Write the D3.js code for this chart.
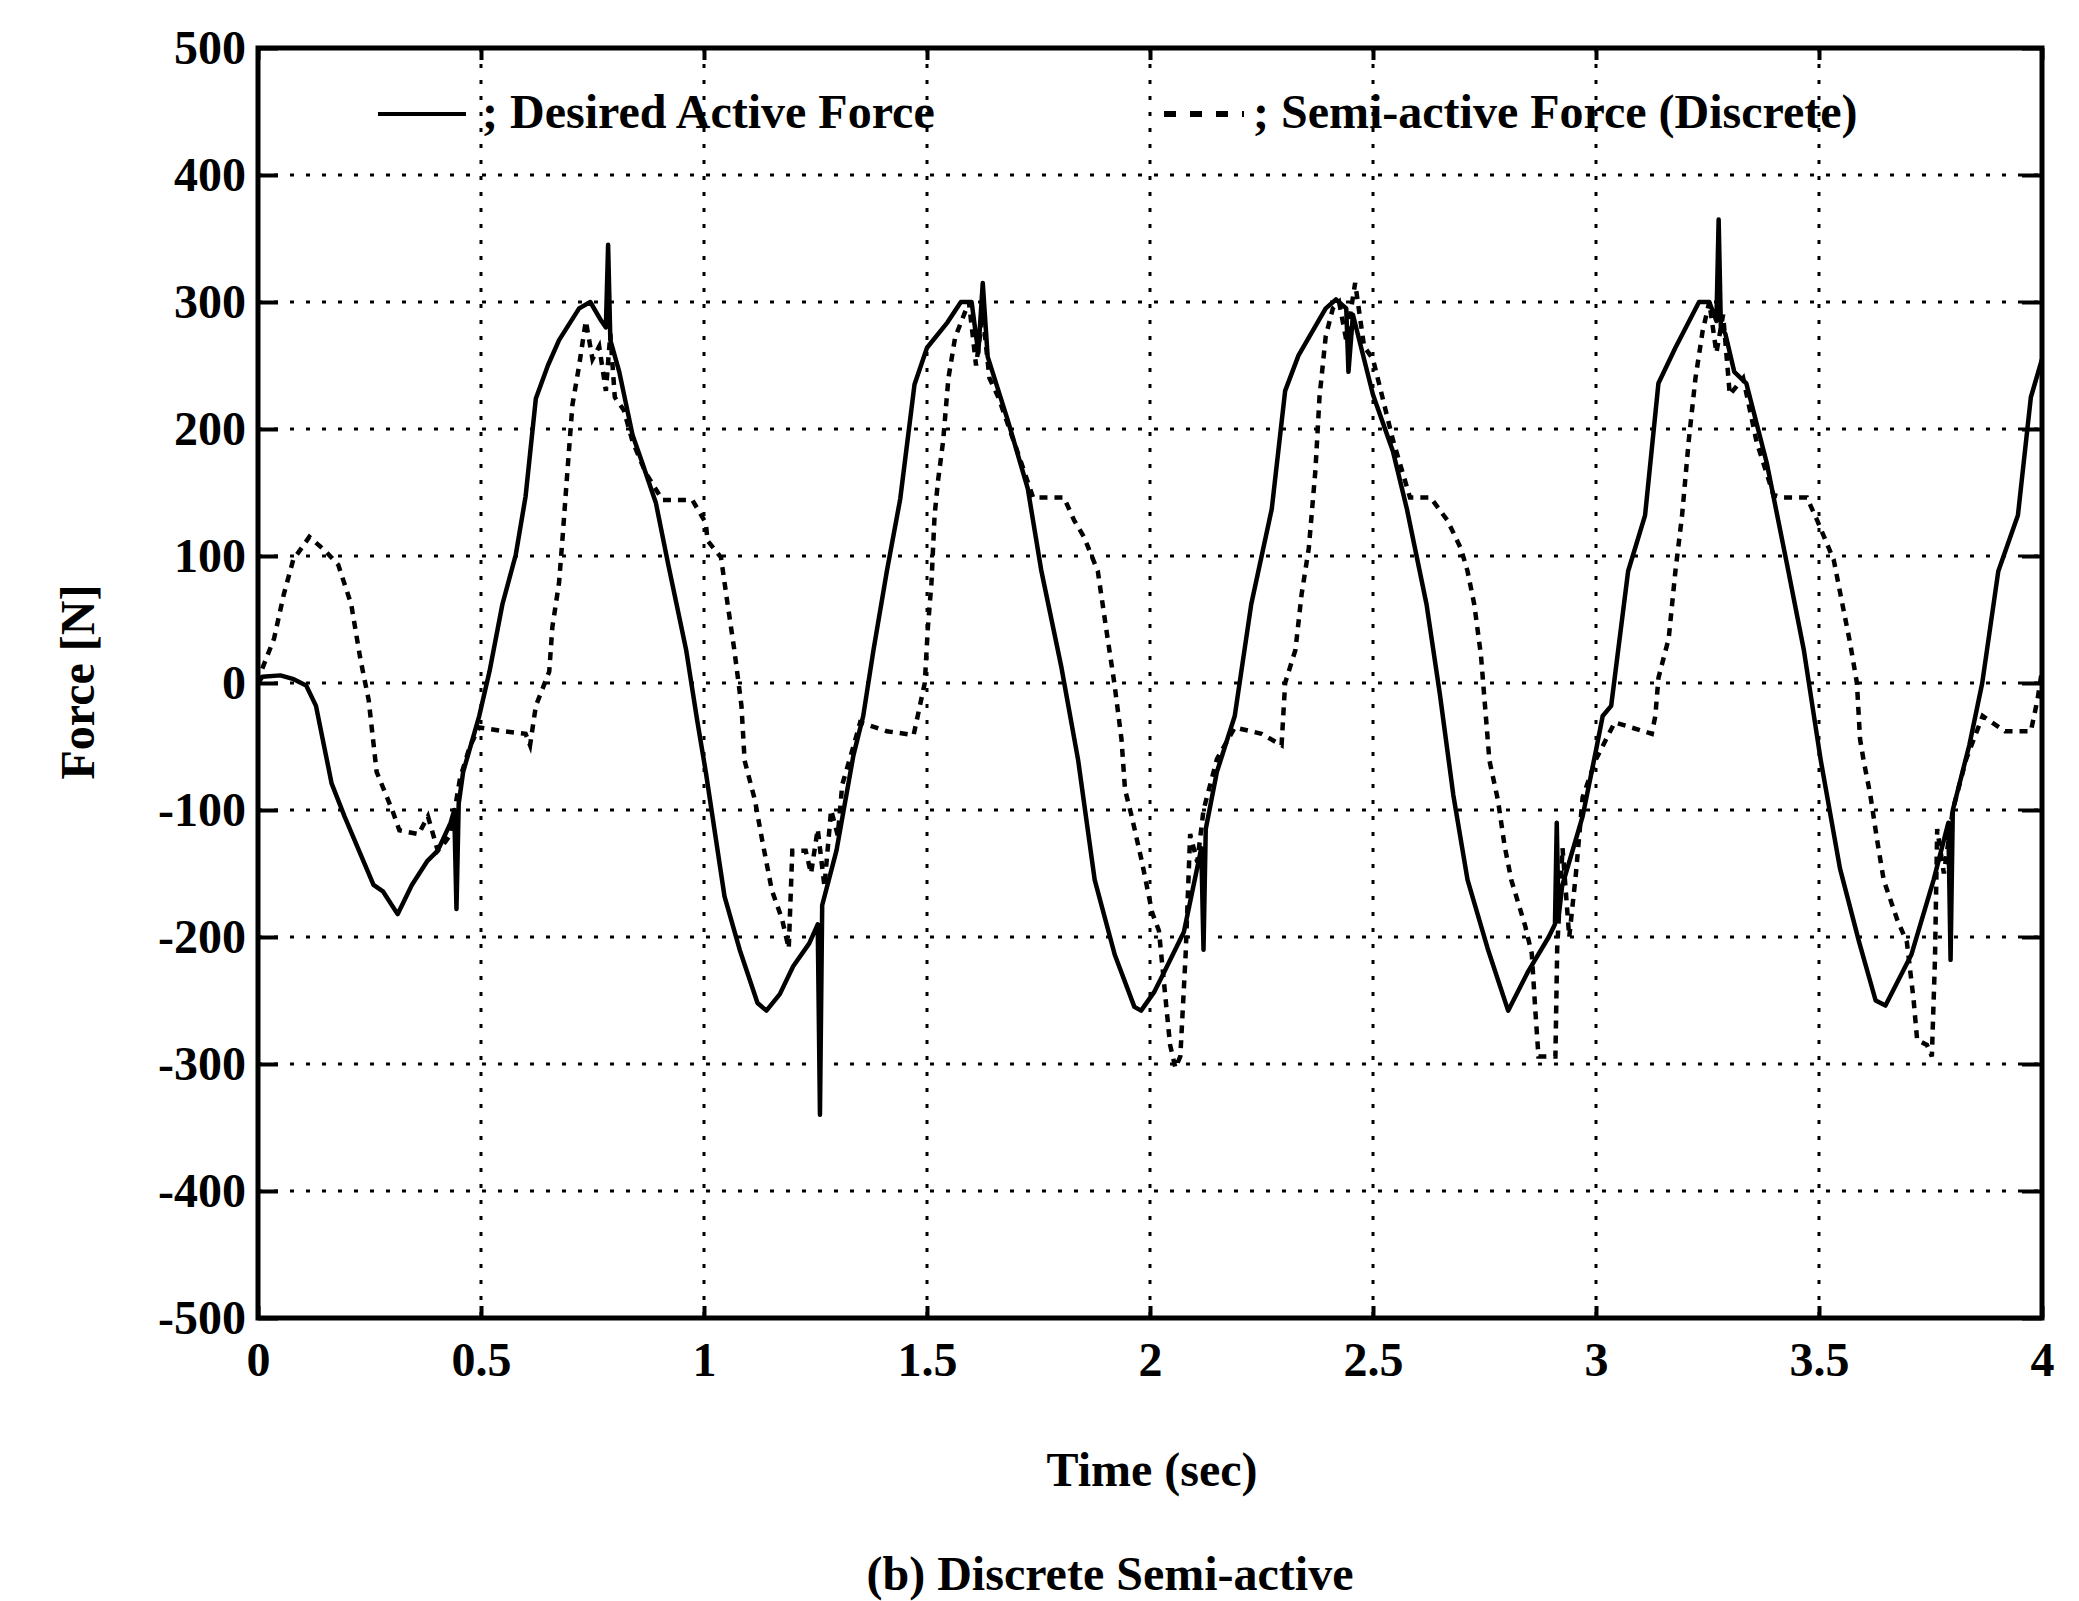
<!DOCTYPE html>
<html>
<head>
<meta charset="utf-8">
<script src="https://cdn.jsdelivr.net/npm/d3@7"></script>
<style>
  html, body { margin: 0; padding: 0; background: #fff; }
  svg { display: block; }
  text { font-family: "Liberation Serif", "DejaVu Serif", serif; fill: #000; }
</style>
</head>
<body>
<svg id="chart" width="2079" height="1601"></svg>
<script>
// ---- data ----
const xTicks = [0, 0.5, 1, 1.5, 2, 2.5, 3, 3.5, 4];
const xTickLabels = ["0", "0.5", "1", "1.5", "2", "2.5", "3", "3.5", "4"];
const yTicks = [-500, -400, -300, -200, -100, 0, 100, 200, 300, 400, 500];
const yTickLabels = ["-500", "-400", "-300", "-200", "-100", "0", "100", "200", "300", "400", "500"];

const seriesNames = ["Desired Active Force", "Semi-active Force (Discrete)"];

const desiredTime = [0,0.01,0.05,0.08,0.108,0.13,0.165,0.194,0.23,0.259,0.28,0.313,0.345,0.38,0.403,0.432,0.44,0.445,0.45,0.46,0.496,0.519,0.548,0.578,0.6,0.623,0.65,0.675,0.72,0.745,0.77,0.78,0.785,0.79,0.81,0.84,0.86,0.892,0.92,0.96,0.985,1.004,1.046,1.08,1.12,1.14,1.17,1.2,1.236,1.255,1.26,1.265,1.297,1.335,1.357,1.38,1.41,1.44,1.472,1.5,1.546,1.576,1.6,1.615,1.625,1.636,1.681,1.726,1.756,1.801,1.839,1.876,1.921,1.965,1.98,2.01,2.03,2.076,2.115,2.12,2.125,2.15,2.19,2.227,2.273,2.303,2.333,2.394,2.417,2.44,2.445,2.455,2.5,2.545,2.576,2.62,2.65,2.68,2.712,2.757,2.803,2.848,2.894,2.908,2.912,2.916,2.924,2.97,3.0,3.015,3.034,3.072,3.11,3.14,3.178,3.231,3.254,3.27,3.275,3.28,3.29,3.31,3.337,3.383,3.428,3.466,3.504,3.547,3.59,3.627,3.649,3.707,3.757,3.79,3.795,3.8,3.837,3.866,3.902,3.946,3.975,4.0];
const desiredForce = [0,5,6,3,-2,-18,-79,-105,-135,-159,-164,-182,-159,-140,-132,-110,-100,-178,-95,-70,-26,9,62,101,147,224,250,270,295,300,285,280,345,270,245,195,175,142,93,26,-30,-70,-168,-210,-252,-258,-245,-223,-205,-190,-340,-175,-132,-57,-26,26,88,145,235,264,284,300,300,260,315,257,207,153,89,13,-61,-155,-214,-255,-258,-243,-229,-196,-130,-210,-115,-70,-26,62,137,230,258,295,302,295,245,290,227,182,137,62,-9,-88,-155,-209,-258,-227,-200,-190,-110,-185,-160,-105,-53,-26,-18,88,132,236,264,300,300,285,365,280,275,245,236,173,94,26,-61,-146,-204,-250,-254,-214,-155,-110,-218,-100,-49,0,88,132,225,255];

const semiTime = [0,0.007,0.036,0.058,0.079,0.115,0.151,0.18,0.209,0.23,0.248,0.266,0.302,0.317,0.36,0.381,0.403,0.42,0.432,0.453,0.475,0.496,0.55,0.6,0.61,0.623,0.653,0.66,0.675,0.683,0.694,0.705,0.72,0.735,0.75,0.765,0.78,0.79,0.8,0.82,0.84,0.87,0.9,0.907,0.974,1.004,1.008,1.038,1.053,1.068,1.084,1.091,1.114,1.13,1.152,1.175,1.19,1.198,1.228,1.24,1.255,1.27,1.285,1.3,1.31,1.335,1.35,1.41,1.47,1.495,1.502,1.51,1.517,1.525,1.536,1.548,1.563,1.594,1.61,1.625,1.64,1.66,1.7,1.738,1.807,1.83,1.852,1.883,1.905,1.92,1.936,1.944,1.959,1.982,2.005,2.02,2.03,2.045,2.057,2.068,2.08,2.09,2.106,2.12,2.15,2.19,2.25,2.295,2.303,2.326,2.34,2.356,2.371,2.38,2.394,2.41,2.424,2.44,2.46,2.48,2.5,2.545,2.583,2.629,2.667,2.697,2.712,2.727,2.742,2.75,2.761,2.78,2.795,2.81,2.841,2.856,2.864,2.871,2.909,2.913,2.925,2.94,2.955,2.97,3.0,3.042,3.125,3.133,3.14,3.163,3.178,3.193,3.208,3.223,3.239,3.254,3.27,3.285,3.3,3.33,3.36,3.398,3.42,3.473,3.496,3.533,3.548,3.57,3.585,3.592,3.6,3.615,3.63,3.645,3.675,3.697,3.712,3.72,3.742,3.753,3.76,3.765,3.78,3.8,3.83,3.867,3.917,3.975,3.99,4.0];
const semiForce = [0,9,35,70,97,115,104,93,62,18,-13,-70,-101,-116,-119,-105,-132,-125,-119,-75,-50,-35,-38,-40,-49,-18,9,44,79,115,168,219,250,285,255,265,230,275,225,215,190,165,148,144,144,126,112,99,62,26,-18,-61,-92,-123,-163,-186,-209,-132,-132,-150,-115,-160,-100,-120,-80,-50,-31,-38,-41,0,44,79,132,160,190,240,272,300,250,290,240,225,185,146,146,128,115,88,35,0,-44,-84,-105,-141,-181,-195,-231,-285,-303,-294,-213,-119,-141,-100,-60,-35,-40,-49,0,26,70,106,168,225,273,295,300,270,315,265,255,191,146,146,128,106,88,62,22,-13,-61,-92,-128,-155,-191,-213,-258,-294,-294,-209,-130,-200,-150,-90,-60,-31,-40,-26,4,35,88,132,191,240,277,300,260,290,227,240,190,148,146,146,128,97,70,31,0,-44,-61,-88,-123,-155,-186,-204,-249,-281,-285,-294,-218,-115,-150,-100,-60,-26,-38,-38,-13,10];

const xAxisTitle = "Time (sec)";
const yAxisTitle = "Force [N]";
const caption = "(b) Discrete Semi-active";

// ---- layout ----
const svg = d3.select("#chart");
const L = 258, R = 2042, T = 48, B = 1318;
const FONT = 48;

const x = d3.scaleLinear().domain([0, 4]).range([L, R]);
const y = d3.scaleLinear().domain([-500, 500]).range([B, T]);

svg.append("rect").attr("width", 2079).attr("height", 1601).attr("fill", "#fff");

// grid
const grid = svg.append("g").attr("stroke", "#000").attr("stroke-width", 3)
  .attr("stroke-dasharray", "4,12");
grid.selectAll("line.h").data(yTicks.filter(v => v > -500 && v < 500)).join("line")
  .attr("x1", L).attr("x2", R).attr("y1", d => y(d)).attr("y2", d => y(d));
grid.selectAll("line.v").data(xTicks.filter(v => v > 0 && v < 4)).join("line")
  .attr("class", "v")
  .attr("y1", T).attr("y2", B).attr("x1", d => x(d)).attr("x2", d => x(d));

// axes
function styleAxis(g) {
  g.select(".domain").remove();
  g.selectAll(".tick line").attr("stroke", "#000").attr("stroke-width", 4);
  g.selectAll(".tick text").attr("font-size", FONT).attr("font-weight", "bold")
    .attr("font-family", '"Liberation Serif", serif').attr("fill", "#000");
}
svg.append("g").attr("transform", `translate(${L},0)`)
  .call(d3.axisLeft(y).tickValues(yTicks).tickFormat((d, i) => yTickLabels[i]).tickSize(-20).tickPadding(12))
  .call(styleAxis);
svg.append("g").attr("transform", `translate(${R},0)`)
  .call(d3.axisRight(y).tickValues(yTicks).tickFormat("").tickSize(-20))
  .call(styleAxis);
svg.append("g").attr("transform", `translate(0,${B})`)
  .call(d3.axisBottom(x).tickValues(xTicks).tickFormat((d, i) => xTickLabels[i]).tickSize(-12).tickPadding(24))
  .call(styleAxis);
svg.append("g").attr("transform", `translate(0,${T})`)
  .call(d3.axisTop(x).tickValues(xTicks).tickFormat("").tickSize(-12))
  .call(styleAxis);

// series
const desired = desiredTime.map((t, i) => [t, desiredForce[i]]);
const semi = semiTime.map((t, i) => [t, semiForce[i]]);
const line = d3.line().x(d => x(d[0])).y(d => y(d[1]));

const clip = svg.append("clipPath").attr("id", "plotclip").append("rect")
  .attr("x", L).attr("y", T).attr("width", R - L).attr("height", B - T);

svg.append("path").datum(semi).attr("d", line)
  .attr("fill", "none").attr("stroke", "#000").attr("stroke-width", 4.5)
  .attr("stroke-dasharray", "8,7").attr("clip-path", "url(#plotclip)");
svg.append("path").datum(desired).attr("d", line)
  .attr("fill", "none").attr("stroke", "#000").attr("stroke-width", 4.5)
  .attr("stroke-linejoin", "round").attr("clip-path", "url(#plotclip)");

// frame
svg.append("rect").attr("x", L).attr("y", T).attr("width", R - L).attr("height", B - T)
  .attr("fill", "none").attr("stroke", "#000").attr("stroke-width", 5);

// legend
const lg = svg.append("g");
lg.append("line").attr("x1", 378).attr("x2", 466).attr("y1", 114).attr("y2", 114)
  .attr("stroke", "#000").attr("stroke-width", 4);
lg.append("text").attr("x", 482).attr("y", 128).attr("font-size", FONT).attr("font-weight", "bold")
  .text("; " + seriesNames[0]);
lg.append("line").attr("x1", 1164).attr("x2", 1244).attr("y1", 114).attr("y2", 114)
  .attr("stroke", "#000").attr("stroke-width", 6).attr("stroke-dasharray", "12,14");
lg.append("text").attr("x", 1253).attr("y", 128).attr("font-size", FONT).attr("font-weight", "bold")
  .text("; " + seriesNames[1]);

// titles
svg.append("text").attr("x", 1152).attr("y", 1486).attr("text-anchor", "middle")
  .attr("font-size", FONT).attr("font-weight", "bold").text(xAxisTitle);
svg.append("text").attr("transform", "translate(94,682) rotate(-90)").attr("text-anchor", "middle")
  .attr("font-size", FONT).attr("font-weight", "bold").text(yAxisTitle);
svg.append("text").attr("x", 1110).attr("y", 1590).attr("text-anchor", "middle")
  .attr("font-size", FONT).attr("font-weight", "bold").text(caption);
</script>
</body>
</html>
